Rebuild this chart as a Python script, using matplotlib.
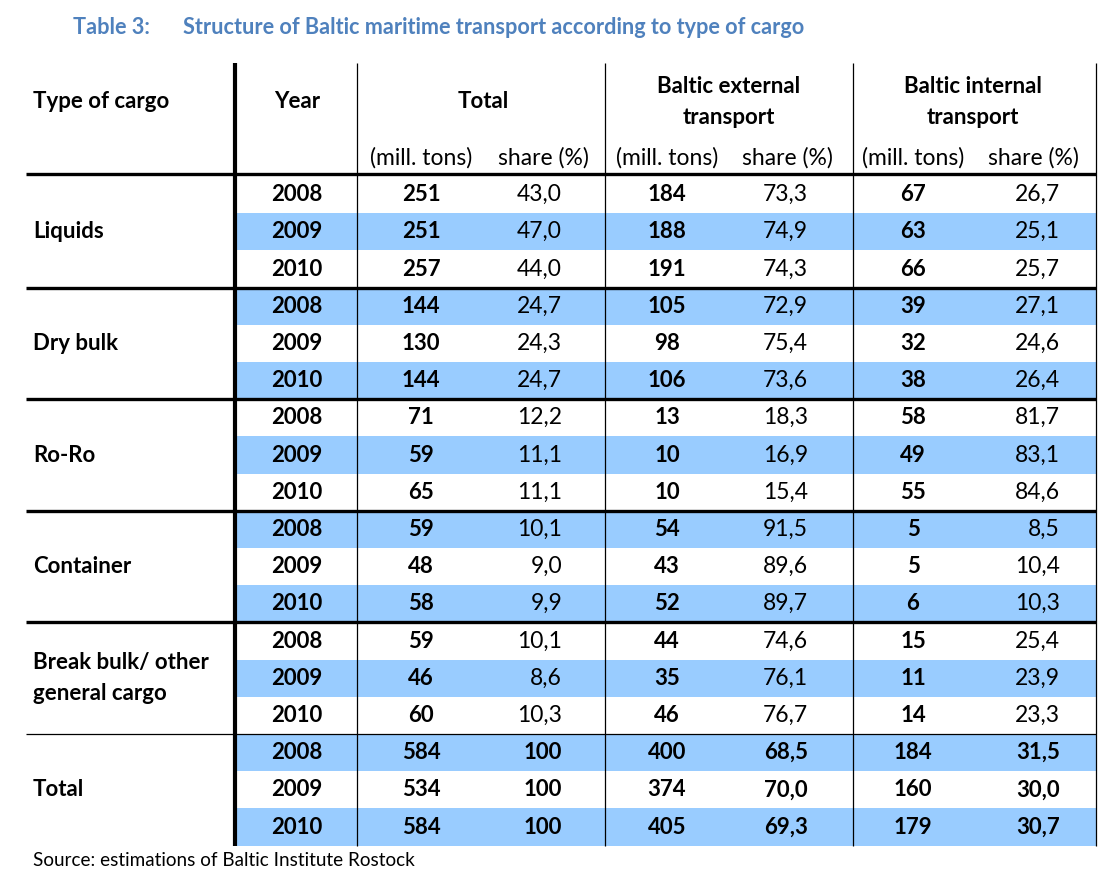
import matplotlib.pyplot as plt
from matplotlib.patches import Rectangle

plt.rcParams['font.family'] = ['Lato', 'DejaVu Sans']

cargo_types = ["Liquids", "Dry bulk", "Ro-Ro", "Container",
               "Break bulk/ other\ngeneral cargo", "Total"]
years = ["2008", "2009", "2010"]

total_tons = [251, 251, 257, 144, 130, 144, 71, 59, 65, 59, 48, 58, 59, 46, 60, 584, 534, 584]
total_share = [43.0, 47.0, 44.0, 24.7, 24.3, 24.7, 12.2, 11.1, 11.1, 10.1, 9.0, 9.9,
               10.1, 8.6, 10.3, 100, 100, 100]
ext_tons = [184, 188, 191, 105, 98, 106, 13, 10, 10, 54, 43, 52, 44, 35, 46, 400, 374, 405]
ext_share = [73.3, 74.9, 74.3, 72.9, 75.4, 73.6, 18.3, 16.9, 15.4, 91.5, 89.6, 89.7,
             74.6, 76.1, 76.7, 68.5, 70.0, 69.3]
int_tons = [67, 63, 66, 39, 32, 38, 58, 49, 55, 5, 5, 6, 15, 11, 14, 184, 160, 179]
int_share = [26.7, 25.1, 25.7, 27.1, 24.6, 26.4, 81.7, 83.1, 84.6, 8.5, 10.4, 10.3,
             25.4, 23.9, 23.3, 31.5, 30.0, 30.7]


def fmt(v):
    if v == 100:
        return "100"
    return f"{v:.1f}".replace(".", ",")


fig = plt.figure(figsize=(11.16, 8.8), dpi=100)
ax = fig.add_axes([0, 0, 1, 1])
ax.set_xlim(0, 1116)
ax.set_ylim(880, 0)
ax.axis("off")

# layout in pixels
left, right = 26, 1096
x_year, x_tot, x_ext, x_int = 235, 357, 605, 853
top, head_bot = 63, 174
row0, row_h = 176, 37.2
n_rows = len(total_tons)
bottom = row0 + n_rows * row_h
fs = 16          # bold
fr = 16.5        # regular
blue = "#99CCFF"
title_col = "#4F81BD"

# title
ax.text(73, 27, "Table 3:", color=title_col, fontsize=15.6, fontweight="bold", va="center")
ax.text(183, 27, "Structure of Baltic maritime transport according to type of cargo",
        color=title_col, fontsize=15.6, fontweight="bold", va="center")

# header
ax.text(33, 102, "Type of cargo", fontsize=fs, fontweight="bold", va="center")
ax.text(297, 102, "Year", fontsize=fs, fontweight="bold", va="center", ha="center")
ax.text(483, 102, "Total", fontsize=fs, fontweight="bold", va="center", ha="center")
ax.text(729, 102, "Baltic external\ntransport", fontsize=fs, fontweight="bold",
        va="center", ha="center", linespacing=1.6)
ax.text(973, 102, "Baltic internal\ntransport", fontsize=fs, fontweight="bold",
        va="center", ha="center", linespacing=1.6)
for cx_t, cx_s in [(421, 543), (667, 787), (913, 1033)]:
    ax.text(cx_t, 158, "(mill. tons)", fontsize=fr, va="center", ha="center")
    ax.text(cx_s, 158, "share (%)", fontsize=fr, va="center", ha="center")

# rows
for i in range(n_rows):
    y = row0 + i * row_h
    cy = y + row_h / 2
    if i % 2 == 1:
        ax.add_patch(Rectangle((x_year, y), right - x_year, row_h, color=blue, lw=0, zorder=0))
    last_group = i >= n_rows - 3
    sw = "bold" if last_group else "normal"
    ss = fs if last_group else fr
    ax.text(297, cy, years[i % 3], fontsize=fs, fontweight="bold", ha="center", va="center")
    ax.text(421, cy, str(total_tons[i]), fontsize=fs, fontweight="bold", ha="center", va="center")
    ax.text(562, cy, fmt(total_share[i]), fontsize=ss, fontweight=sw, ha="right", va="center")
    ax.text(667, cy, str(ext_tons[i]), fontsize=fs, fontweight="bold", ha="center", va="center")
    ax.text(808, cy, fmt(ext_share[i]), fontsize=ss, fontweight=sw, ha="right", va="center")
    ax.text(913, cy, str(int_tons[i]), fontsize=fs, fontweight="bold", ha="center", va="center")
    ax.text(1060, cy, fmt(int_share[i]), fontsize=ss, fontweight=sw, ha="right", va="center")

for g, name in enumerate(cargo_types):
    cy = row0 + (g * 3 + 1.5) * row_h
    ax.text(33, cy, name, fontsize=fs, fontweight="bold", va="center", linespacing=1.6)

# lines
ax.hlines(head_bot, left, right, color="black", lw=2.4, zorder=3)
for g in range(1, len(cargo_types)):
    y = row0 + g * 3 * row_h
    lw = 0.9 if g == len(cargo_types) - 1 else 2.4
    ax.hlines(y, left, right, color="black", lw=lw, zorder=3)
ax.vlines(x_year, top, bottom, color="black", lw=3.0, zorder=3)
ax.vlines([x_tot, x_ext, x_int, right], top, bottom, color="black", lw=0.9, zorder=3)

ax.text(33, 861, "Source: estimations of Baltic Institute Rostock", fontsize=13.6, va="center")

fig.savefig("out.png", dpi=100)
